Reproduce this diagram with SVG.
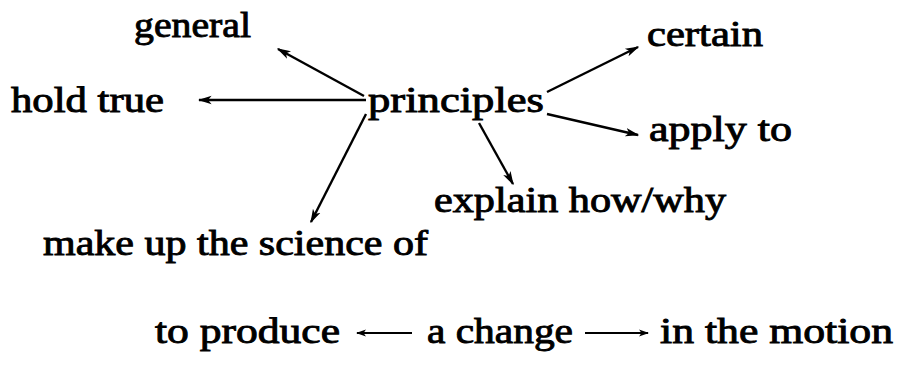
<svg xmlns="http://www.w3.org/2000/svg" width="901" height="365" viewBox="0 0 901 365">
<defs>
<marker id="ah" viewBox="0 0 10 10" refX="9" refY="5" markerWidth="10" markerHeight="10" markerUnits="userSpaceOnUse" orient="auto">
<path d="M0,1.5 L10,5 L0,8.5 L2.5,5 Z" fill="#000"/>
</marker>
<marker id="ah2" viewBox="0 0 10 10" refX="9" refY="5" markerWidth="14" markerHeight="14" markerUnits="userSpaceOnUse" orient="auto">
<path d="M0,2 L10,5 L0,8 L2.5,5 Z" fill="#000"/>
</marker>
<style>
text{font-family:"Liberation Serif",serif;font-size:35px;fill:#000;stroke:#000;stroke-width:0.9}
.c{stroke:#000;stroke-width:2.4;fill:none}
.h{stroke:#000;stroke-width:1.8;fill:none}
</style>
</defs>
<g id="principles"><text x="368" y="112" textLength="176" lengthAdjust="spacingAndGlyphs">principles</text></g>
<g id="general"><text x="134" y="37" textLength="117" lengthAdjust="spacingAndGlyphs">general</text></g>
<g id="hold-true"><text x="11" y="112" textLength="153" lengthAdjust="spacingAndGlyphs">hold true</text></g>
<g id="certain"><text x="647" y="46" textLength="116" lengthAdjust="spacingAndGlyphs">certain</text></g>
<g id="apply-to"><text x="649" y="141" textLength="143" lengthAdjust="spacingAndGlyphs">apply to</text></g>
<g id="explain"><text x="434" y="212" textLength="292" lengthAdjust="spacingAndGlyphs">explain how/why</text></g>
<g id="make-up"><text x="43" y="255" textLength="385" lengthAdjust="spacingAndGlyphs">make up the science of</text></g>
<g id="to-produce"><text x="155" y="343" textLength="185" lengthAdjust="spacingAndGlyphs">to produce</text></g>
<g id="a-change"><text x="427" y="343" textLength="146" lengthAdjust="spacingAndGlyphs">a change</text></g>
<g id="in-the-motion"><text x="660" y="343" textLength="233" lengthAdjust="spacingAndGlyphs">in the motion</text></g>
<g id="connectors">
<line class="c" x1="364" y1="96" x2="278" y2="49" marker-end="url(#ah2)"/>
<line class="c" x1="366" y1="100" x2="199" y2="100" marker-end="url(#ah2)"/>
<line class="c" x1="366" y1="114" x2="311" y2="222" marker-end="url(#ah2)"/>
<line class="c" x1="547" y1="92" x2="638" y2="47" marker-end="url(#ah2)"/>
<line class="c" x1="547" y1="114" x2="638" y2="135" marker-end="url(#ah2)"/>
<line class="c" x1="479" y1="123" x2="513" y2="184" marker-end="url(#ah2)"/>
<line class="h" x1="412" y1="333" x2="357" y2="333" marker-end="url(#ah)"/>
<line class="h" x1="585" y1="333" x2="648" y2="333" marker-end="url(#ah)"/>
</g>
</svg>
